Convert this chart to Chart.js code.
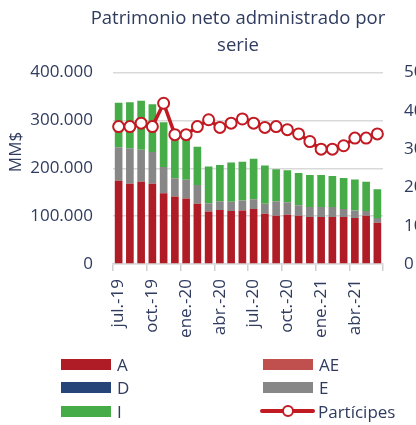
<!DOCTYPE html>
<html>
<head>
<meta charset="utf-8">
<script src="https://cdn.jsdelivr.net/npm/chart.js@4/dist/chart.umd.min.js"></script>
<style>
  html, body { margin: 0; padding: 0; background: #fff; overflow: hidden; width: 416px; height: 425px; }
  #wrap { position: absolute; left: 0; top: 0; width: 476px; height: 425px; }
  #legend { position: absolute; left: 0; top: 0; width: 416px; height: 425px; pointer-events: none;
            font-family: "Open Sans", sans-serif; font-size: 17px; color: #2f3b5f; }
  .li { position: absolute; height: 22px; display: flex; align-items: center; }
  .sw { width: 50px; height: 11px; margin-right: 6px; }
  .ln { position: relative; width: 55px; height: 22px; margin-right: 3px; }
  .ln .bar { position: absolute; left: 0; right: 0; top: 9px; height: 4px; border-radius: 2px; }
  .ln .dot { position: absolute; left: 22px; top: 5px; width: 8px; height: 8px; border-radius: 50%; background: #fff; border: 2px solid; }
</style>
</head>
<body>
<div id="wrap"><canvas id="c"></canvas></div>
<div id="legend"></div>
<script>
const months = ['jul.-19','ago.-19','sept.-19','oct.-19','nov.-19','dic.-19','ene.-20','feb.-20','mar.-20','abr.-20','may.-20','jun.-20',
                'jul.-20','ago.-20','sept.-20','oct.-20','nov.-20','dic.-20','ene.-21','feb.-21','mar.-21','abr.-21','may.-21','jun.-21'];
const serieA  = [174000,168000,172000,168000,148000,141000,137000,126000,110000,113000,111000,112000,
                 115000,105000,101000,103000,101000,98000,98000,98000,98000,96000,101000,86000];
const serieAE = [0,0,0,0,0,0,0,0,0,0,0,0, 0,0,0,0,0,0,0,0,0,0,0,0];
const serieD  = [0,0,0,0,0,0,0,0,0,0,0,0, 0,0,0,0,0,0,0,0,0,0,0,0];
const serieE  = [70000,74000,67000,66000,55000,38000,39000,39000,17000,18000,19000,21000,
                 20500,21000,30000,26000,22000,21000,21000,21000,17000,16000,10000,10000];
const serieI  = [93000,96000,102000,100000,93500,85000,86000,80000,77000,76000,82000,81000,
                 84500,80000,67000,67000,67000,67000,67000,65000,65000,64500,61000,60000];
const participes = [359,359,368,359,420,338,338,359,377,357,368,379,
                    368,357,359,351,340,320,300,300,309,329,329,340];
const leftTickLabels  = ['0','100.000','200.000','300.000','400.000'];
const rightTickLabels = ['0','100','200','300','400','500'];

const TXT = '#2f3b5f';
const FONT = '"Open Sans", sans-serif';
const GRID = '#d9d9d9';

function barSet(label, data, color) {
  return { type: 'bar', label, data, backgroundColor: color, borderWidth: 0,
           yAxisID: 'y', stack: 's', order: 1, barPercentage: 0.68, categoryPercentage: 1 };
}

const mmPlugin = {
  id: 'mm',
  afterDraw(chart) {
    const ctx = chart.ctx;
    ctx.save();
    ctx.translate(16, 152);
    ctx.rotate(-Math.PI / 2);
    ctx.fillStyle = TXT;
    ctx.font = '17px ' + FONT;
    ctx.textAlign = 'center';
    ctx.textBaseline = 'middle';
    ctx.fillText('MM$', 0, 0);
    ctx.restore();
  }
};

const chart = new Chart(document.getElementById('c'), {
  data: {
    labels: months,
    datasets: [
      barSet('A', serieA, '#b01c26'),
      barSet('AE', serieAE, '#c0504d'),
      barSet('D', serieD, '#264478'),
      barSet('E', serieE, '#878787'),
      barSet('I', serieI, '#46ac48'),
      { type: 'line', label: 'Partícipes', data: participes, yAxisID: 'y1', order: 0,
        borderColor: '#c21a22', borderWidth: 3.5, tension: 0,
        pointRadius: 5.5, pointBackgroundColor: '#ffffff', pointBorderColor: '#c21a22', pointBorderWidth: 2 }
    ]
  },
  options: {
    responsive: true,
    maintainAspectRatio: false,
    animation: false,
    layout: { padding: 0 },
    plugins: {
      legend: { display: false },
      tooltip: { enabled: false },
      title: {
        display: true,
        text: ['Patrimonio neto administrado por', 'serie'],
        color: TXT,
        font: { family: FONT, size: 18.5, weight: 'normal', lineHeight: 1.45 },
        padding: { top: 5, bottom: 14 }
      }
    },
    scales: {
      x: {
        stacked: true,
        offset: true,
        grid: {
          offset: true, drawOnChartArea: false, drawTicks: true, tickLength: 7, lineWidth: 1.5,
          color: c => (c.index === undefined || c.index % 3 === 0) ? '#d0d0d0' : 'rgba(0,0,0,0)'
        },
        border: { color: GRID, width: 1.5 },
        ticks: {
          autoSkip: false, minRotation: 90, maxRotation: 90, padding: 8, color: TXT,
          font: { family: FONT, size: 17 },
          callback: (v, i) => (i % 3 === 0 ? months[i] : '')
        },
        afterFit: s => { s.height = 161; }
      },
      y: {
        position: 'left',
        stacked: true,
        min: 0, max: 400000,
        grid: { color: GRID, lineWidth: 1.5, drawTicks: false },
        border: { display: false },
        ticks: { stepSize: 100000, padding: 20, color: TXT, font: { family: FONT, size: 17 },
                 callback: (v, i) => leftTickLabels[i] },
        afterFit: s => { s.width = 113; }
      },
      y1: {
        position: 'right',
        min: 0, max: 500,
        grid: { drawOnChartArea: false, drawTicks: false },
        border: { display: false },
        ticks: { stepSize: 100, padding: 21, color: TXT, font: { family: FONT, size: 17 },
                 callback: (v, i) => rightTickLabels[i] },
        afterFit: s => { s.width = 93; }
      }
    }
  },
  plugins: [mmPlugin]
});

// HTML legend built from the chart's datasets
const legendPos = { 'A': [61, 353], 'AE': [263, 353], 'D': [61, 376], 'E': [263, 376], 'I': [61, 400], 'Partícipes': [260, 400] };
const lg = document.getElementById('legend');
chart.data.datasets.forEach(ds => {
  const p = legendPos[ds.label];
  const item = document.createElement('div');
  item.className = 'li';
  item.style.left = p[0] + 'px';
  item.style.top = p[1] + 'px';
  if (ds.type === 'line') {
    const ln = document.createElement('div');
    ln.className = 'ln';
    const b = document.createElement('div'); b.className = 'bar'; b.style.background = ds.borderColor;
    const d = document.createElement('div'); d.className = 'dot'; d.style.borderColor = ds.borderColor;
    ln.appendChild(b); ln.appendChild(d);
    item.appendChild(ln);
  } else {
    const sw = document.createElement('div');
    sw.className = 'sw';
    sw.style.background = ds.backgroundColor;
    item.appendChild(sw);
  }
  const t = document.createElement('span');
  t.textContent = ds.label;
  item.appendChild(t);
  lg.appendChild(item);
});
</script>
</body>
</html>
